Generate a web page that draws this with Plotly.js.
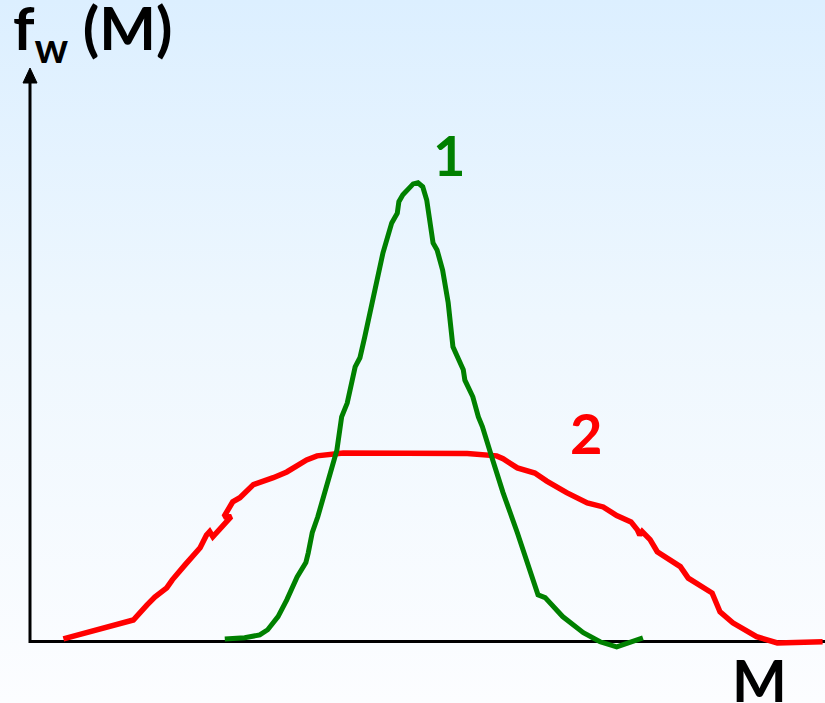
<!DOCTYPE html>
<html>
<head>
<meta charset="utf-8">
<script src="https://cdn.plot.ly/plotly-3.0.1.min.js"></script>
<style>
  html, body { margin: 0; padding: 0; }
  body { width: 825px; height: 703px; background: linear-gradient(to bottom, #dcefff 0%, #eef7fe 45%, #fcfdff 100%); }
  #chart { width: 825px; height: 703px; }
</style>
</head>
<body>
<div id="chart"></div>
<script>
// Distribution 1 (narrow), M vs f_w(M), arbitrary units
const m1 = [24.5, 27.0, 28.9, 29.9, 31.2, 32.3, 33.6, 34.7, 35.0, 35.5, 36.2, 36.9, 37.5, 38.1, 38.6, 39.2, 39.9, 40.9, 41.5, 42.1, 43.1, 44.4, 45.5, 46.2, 46.4, 46.9, 48.2, 48.8, 49.4, 49.9, 50.7, 51.2, 51.9, 52.6, 53.2, 53.7, 54.5, 54.7, 55.7, 56.4, 56.9, 58.2, 59.5, 61.3, 62.9, 63.9, 64.8, 67.0, 69.6, 71.7, 73.8, 75.5, 77.1];
const f1 = [0.5, 0.7, 1.2, 2.1, 4.4, 7.3, 11.3, 13.8, 15.5, 19.0, 21.8, 25.3, 27.7, 30.5, 33.4, 39.2, 41.6, 47.9, 49.5, 53.1, 59.6, 67.8, 73.0, 74.7, 76.7, 77.9, 79.8, 80.0, 79.3, 77.0, 69.5, 68.3, 64.8, 59.1, 51.4, 49.7, 47.4, 45.6, 42.7, 39.2, 37.5, 31.7, 26.0, 19.0, 12.5, 8.2, 7.7, 4.4, 1.6, 0.0, -0.9, 0.0, 0.7];

// Distribution 2 (broad)
const m2 = [4.2, 13.0, 14.7, 15.7, 17.2, 17.9, 19.5, 21.4, 22.2, 22.6, 23.0, 24.3, 25.3, 24.4, 25.5, 26.4, 27.7, 28.1, 30.6, 32.3, 34.8, 36.1, 39.4, 46.5, 55.0, 58.7, 59.5, 61.3, 63.5, 65.0, 67.5, 70.1, 72.1, 73.8, 75.6, 76.4, 76.7, 77.0, 78.0, 78.9, 81.8, 82.8, 85.8, 86.8, 88.4, 91.4, 94.0, 99.7];
const f2 = [0.5, 3.8, 6.4, 7.8, 9.4, 10.8, 13.4, 16.4, 18.6, 19.2, 18.3, 20.4, 21.8, 21.8, 24.4, 25.1, 27.0, 27.4, 28.6, 29.6, 31.7, 32.4, 32.9, 32.9, 32.8, 32.4, 31.9, 30.3, 29.4, 28.0, 26.0, 24.2, 23.5, 22.0, 20.9, 19.5, 18.6, 19.2, 17.8, 15.7, 13.1, 11.1, 8.5, 5.2, 3.3, 0.9, -0.2, 0.0];

const curveLabels = ['1', '2'];
const axisLabelY = 'f<sub>w</sub> (M)';
const axisLabelX = 'M';

const GREEN = '#008000';
const RED = '#ff0000';
const FONT = 'Lato, "Open Sans", "Liberation Sans", sans-serif';

const traces = [
  { x: m2, y: f2, type: 'scatter', mode: 'lines', line: { color: RED, width: 5.5 }, hoverinfo: 'skip' },
  { x: m1, y: f1, type: 'scatter', mode: 'lines', line: { color: GREEN, width: 5 }, hoverinfo: 'skip' }
];

// y-axis (paper units: y range is [-3, 100] so 0 sits at 3/103 of the plot height)
const yZeroPaper = 3 / 103;

const layout = {
  width: 825, height: 703,
  margin: { l: 30, r: 0, t: 68, b: 44, pad: 0 },
  paper_bgcolor: 'rgba(0,0,0,0)',
  plot_bgcolor: 'rgba(0,0,0,0)',
  showlegend: false,
  xaxis: { range: [0, 100], showgrid: false, zeroline: false, showline: false, showticklabels: false, ticks: '', fixedrange: true },
  yaxis: { range: [-3, 100], showgrid: false, zeroline: true, zerolinecolor: '#000', zerolinewidth: 3, showline: false, showticklabels: false, ticks: '', fixedrange: true },
  shapes: [
    { type: 'line', xref: 'paper', yref: 'paper', x0: 0, x1: 0, y0: yZeroPaper - 0.002, y1: 0.975, line: { color: '#000', width: 3 } },
    { type: 'path', xref: 'paper', yref: 'paper', xsizemode: 'pixel', ysizemode: 'pixel', xanchor: 0, yanchor: 1,
      path: 'M-7,-15L7,-15L0,0Z', fillcolor: '#000', line: { color: '#000', width: 1 } }
  ],
  annotations: [
    { x: 52.7, y: 85.0, xref: 'x', yref: 'y', xanchor: 'center', yanchor: 'middle', text: '<b>' + curveLabels[0] + '</b>', showarrow: false, font: { family: FONT, size: 56, color: GREEN } },
    { x: 69.9, y: 36.4, xref: 'x', yref: 'y', xanchor: 'center', yanchor: 'middle', text: '<b>' + curveLabels[1] + '</b>', showarrow: false, font: { family: FONT, size: 56, color: RED } },
    { x: 0.918, y: -0.035, xref: 'paper', yref: 'paper', xanchor: 'center', yanchor: 'middle', text: '<b>' + axisLabelX + '</b>', showarrow: false, font: { family: FONT, size: 58, color: '#000' } },
    { x: -0.024, y: 1.061, xref: 'paper', yref: 'paper', xanchor: 'left', yanchor: 'middle', text: '<b>' + axisLabelY + '</b>', showarrow: false, font: { family: FONT, size: 60, color: '#000' } }
  ]
};

Plotly.newPlot('chart', traces, layout, { displayModeBar: false, staticPlot: true });
</script>
</body>
</html>
